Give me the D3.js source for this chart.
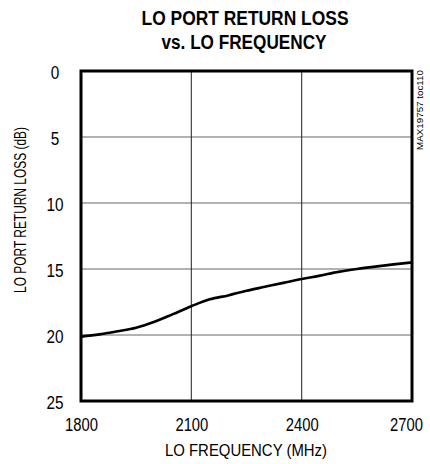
<!DOCTYPE html>
<html>
<head>
<meta charset="utf-8">
<script src="https://cdn.jsdelivr.net/npm/d3@7"></script>
<style>
  html, body { margin: 0; padding: 0; background: #fff; }
  text { font-family: "Liberation Sans", Arial, sans-serif; fill: #000; }
</style>
</head>
<body>
<div id="content"></div>
<script>
// data
var freqs = [1800, 1850, 1900, 1950, 2000, 2050, 2100, 2150, 2200, 2250, 2300, 2350, 2400, 2450, 2500, 2550, 2600, 2650, 2700];
var returnLoss = [20.12, 19.95, 19.72, 19.45, 19.0, 18.42, 17.82, 17.3, 17.0, 16.65, 16.35, 16.05, 15.76, 15.5, 15.22, 15.0, 14.82, 14.65, 14.5];
var xTicks = [1800, 2100, 2400, 2700];
var yTicks = [0, 5, 10, 15, 20, 25];

var width = 430,
    height = 464;
var margin = { top: 71, right: 18, bottom: 63, left: 81 };

var svg = d3.select("#content")
    .append("svg")
    .attr("width", width)
    .attr("height", height);

var x = d3.scaleLinear().domain([1800, 2700]).range([margin.left, width - margin.right]);
var y = d3.scaleLinear().domain([0, 25]).range([margin.top, height - margin.bottom]);

// squeeze text horizontally, the original uses a narrow font
function condense(sel, factor) {
    sel.each(function () {
        var w = this.getComputedTextLength();
        d3.select(this).attr("textLength", w * factor).attr("lengthAdjust", "spacingAndGlyphs");
    });
}

// grid
svg.append("g")
    .selectAll("line")
    .data(yTicks.slice(1, -1))
    .enter()
    .append("line")
    .attr("x1", x(1800)).attr("x2", x(2700))
    .attr("y1", function (d) { return y(d); })
    .attr("y2", function (d) { return y(d); })
    .attr("stroke", "#666")
    .attr("stroke-width", 1.2);

svg.append("g")
    .selectAll("line")
    .data(xTicks.slice(1, -1))
    .enter()
    .append("line")
    .attr("x1", function (d) { return x(d); })
    .attr("x2", function (d) { return x(d); })
    .attr("y1", y(0)).attr("y2", y(25))
    .attr("stroke", "#333")
    .attr("stroke-width", 1.1);

// curve
var line = d3.line()
    .x(function (d, i) { return x(freqs[i]); })
    .y(function (d) { return y(d); })
    .curve(d3.curveMonotoneX);

svg.append("path")
    .datum(returnLoss)
    .attr("d", line)
    .attr("fill", "none")
    .attr("stroke", "#000")
    .attr("stroke-width", 2.6);

// frame
svg.append("rect")
    .attr("x", x(1800)).attr("y", y(0))
    .attr("width", x(2700) - x(1800))
    .attr("height", y(25) - y(0))
    .attr("fill", "none")
    .attr("stroke", "#000")
    .attr("stroke-width", 3);

// axes labels via d3 axes, lines hidden
var xAxis = svg.append("g")
    .attr("transform", "translate(0," + y(25) + ")")
    .call(d3.axisBottom(x).tickValues(xTicks).tickSize(0).tickPadding(0).tickFormat(d3.format("d")));
xAxis.select(".domain").remove();
xAxis.selectAll("text")
    .attr("y", 30)
    .attr("dy", null)
    .attr("dx", function (d) { return d === 2700 ? -6 : 0; })
    .style("font-size", "18px")
    .style("font-family", "'Liberation Sans', Arial, sans-serif")
    .call(condense, 0.82);

var yAxis = svg.append("g")
    .attr("transform", "translate(55,0)")
    .call(d3.axisLeft(y).tickValues(yTicks).tickSize(0).tickPadding(0).tickFormat(d3.format("d")));
yAxis.select(".domain").remove();
yAxis.selectAll("text")
    .attr("x", 0)
    .attr("dy", "0.42em")
    .attr("text-anchor", "middle")
    .style("font-size", "18px")
    .style("font-family", "'Liberation Sans', Arial, sans-serif")
    .call(condense, 0.85);

// titles
svg.append("text")
    .attr("x", 245).attr("y", 25)
    .attr("text-anchor", "middle")
    .style("font-size", "20px")
    .style("font-weight", "bold")
    .attr("textLength", 207).attr("lengthAdjust", "spacingAndGlyphs")
    .text("LO PORT RETURN LOSS");

svg.append("text")
    .attr("x", 244).attr("y", 49)
    .attr("text-anchor", "middle")
    .style("font-size", "20px")
    .style("font-weight", "bold")
    .attr("textLength", 165).attr("lengthAdjust", "spacingAndGlyphs")
    .text("vs. LO FREQUENCY");

svg.append("text")
    .attr("x", 246).attr("y", 456)
    .attr("text-anchor", "middle")
    .style("font-size", "17px")
    .attr("textLength", 162).attr("lengthAdjust", "spacingAndGlyphs")
    .text("LO FREQUENCY (MHz)");

svg.append("text")
    .attr("transform", "translate(26,210) rotate(-90)")
    .attr("text-anchor", "middle")
    .style("font-size", "17px")
    .attr("textLength", 166).attr("lengthAdjust", "spacingAndGlyphs")
    .text("LO PORT RETURN LOSS (dB)");

svg.append("text")
    .attr("transform", "translate(423,150) rotate(-90)")
    .attr("text-anchor", "start")
    .style("font-size", "9.5px")
    .attr("textLength", 80).attr("lengthAdjust", "spacingAndGlyphs")
    .text("MAX19757 toc110");
</script>
</body>
</html>
